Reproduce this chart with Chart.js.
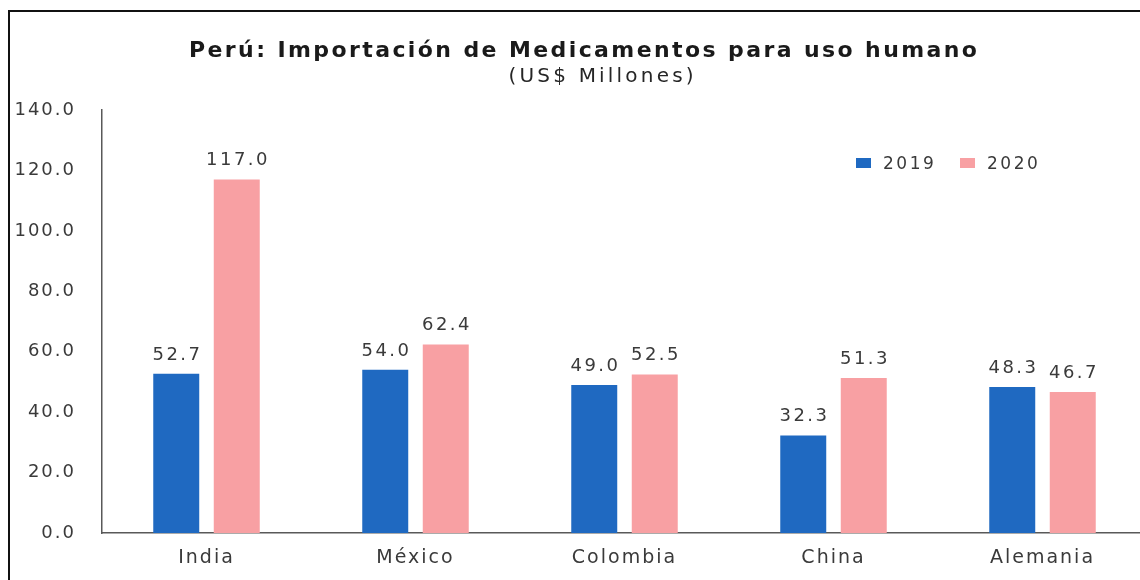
<!DOCTYPE html>
<html>
<head>
<meta charset="utf-8">
<script src="https://cdn.jsdelivr.net/npm/chart.js@4.4.1/dist/chart.umd.min.js"></script>
<style>
  html, body { margin: 0; padding: 0; background: #fff; overflow: hidden; }
  #wrap { position: relative; width: 1140px; height: 580px; overflow: hidden; }
  #frame { position: absolute; left: 8px; top: 10px; width: 1200px; height: 700px;
           border-top: 2px solid #111; border-left: 2px solid #111; pointer-events: none; }
</style>
</head>
<body>
<div id="wrap">
  <canvas id="chart" width="1147" height="580"></canvas>
  <div id="frame"></div>
</div>
<script>
const countries = ['India', 'México', 'Colombia', 'China', 'Alemania'];
const years = ['2019', '2020'];
const imports2019 = [52.7, 54.0, 49.0, 32.3, 48.3];
const imports2020 = [117.0, 62.4, 52.5, 51.3, 46.7];
const yTicks = [0, 20, 40, 60, 80, 100, 120, 140];
const barColors = ['#1f69c1', '#f8a0a3'];

const TITLE = 'Perú: Importación de Medicamentos para uso humano';
const SUBTITLE = '(US$ Millones)';
const TEXT = '#3a3a3a';

// centred text with letter spacing (canvas adds the spacing after the last glyph too)
function spacedText(ctx, str, x, y, spacing, align) {
  ctx.letterSpacing = spacing + 'px';
  ctx.textAlign = align;
  const shift = align === 'center' ? spacing / 2 : 0;
  ctx.fillText(str, x + shift, y);
}

const decorations = {
  id: 'decorations',
  beforeDraw(chart) {
    chart.ctx.letterSpacing = '2px';
  },
  afterDraw(chart) {
    const ctx = chart.ctx;
    ctx.save();
    ctx.textBaseline = 'alphabetic';

    // title + subtitle
    ctx.fillStyle = '#1a1a1a';
    ctx.font = 'bold 22px "DejaVu Sans"';
    spacedText(ctx, TITLE, 583, 57, 2.4, 'center');
    ctx.fillStyle = '#262626';
    ctx.font = '20px "DejaVu Sans"';
    spacedText(ctx, SUBTITLE, 601, 82, 3.2, 'center');

    // value labels above each bar
    ctx.fillStyle = TEXT;
    ctx.font = '18px "DejaVu Sans"';
    chart.data.datasets.forEach((ds, i) => {
      chart.getDatasetMeta(i).data.forEach((bar, j) => {
        spacedText(ctx, ds.data[j].toFixed(1), bar.x, bar.y - 14, 2.5, 'center');
      });
    });

    // legend, top right of the plot
    ctx.font = '17px "DejaVu Sans"';
    let lx = 856;
    chart.data.datasets.forEach(ds => {
      ctx.fillStyle = ds.backgroundColor;
      ctx.fillRect(lx, 158, 15, 10);
      ctx.fillStyle = TEXT;
      spacedText(ctx, ds.label, lx + 27, 169, 2.5, 'left');
      lx += 104;
    });
    ctx.restore();
  }
};

new Chart(document.getElementById('chart'), {
  type: 'bar',
  data: {
    labels: countries,
    datasets: [
      { label: years[0], data: imports2019, backgroundColor: barColors[0] },
      { label: years[1], data: imports2020, backgroundColor: barColors[1] }
    ]
  },
  options: {
    responsive: false,
    animation: false,
    devicePixelRatio: 1,
    categoryPercentage: 0.579,
    barPercentage: 0.76,
    layout: { padding: { top: 110, left: 0, right: 0, bottom: 10 } },
    plugins: {
      legend: { display: false },
      title: { display: false },
      tooltip: { enabled: false }
    },
    scales: {
      x: {
        afterFit: scale => { scale.height = 37; },
        grid: { display: false, drawTicks: false },
        border: { color: '#595959', width: 1.5 },
        ticks: { color: TEXT, font: { family: 'DejaVu Sans', size: 19 }, padding: 14 }
      },
      y: {
        min: 0,
        max: 140,
        afterBuildTicks: scale => { scale.ticks = yTicks.map(v => ({ value: v })); },
        afterFit: scale => { scale.width = 102; },
        grid: { display: false, drawTicks: false },
        border: { color: '#595959', width: 1.5 },
        ticks: {
          color: TEXT,
          font: { family: 'DejaVu Sans', size: 18 },
          padding: 26,
          callback: v => v.toFixed(1)
        }
      }
    }
  },
  plugins: [decorations]
});
</script>
</body>
</html>
